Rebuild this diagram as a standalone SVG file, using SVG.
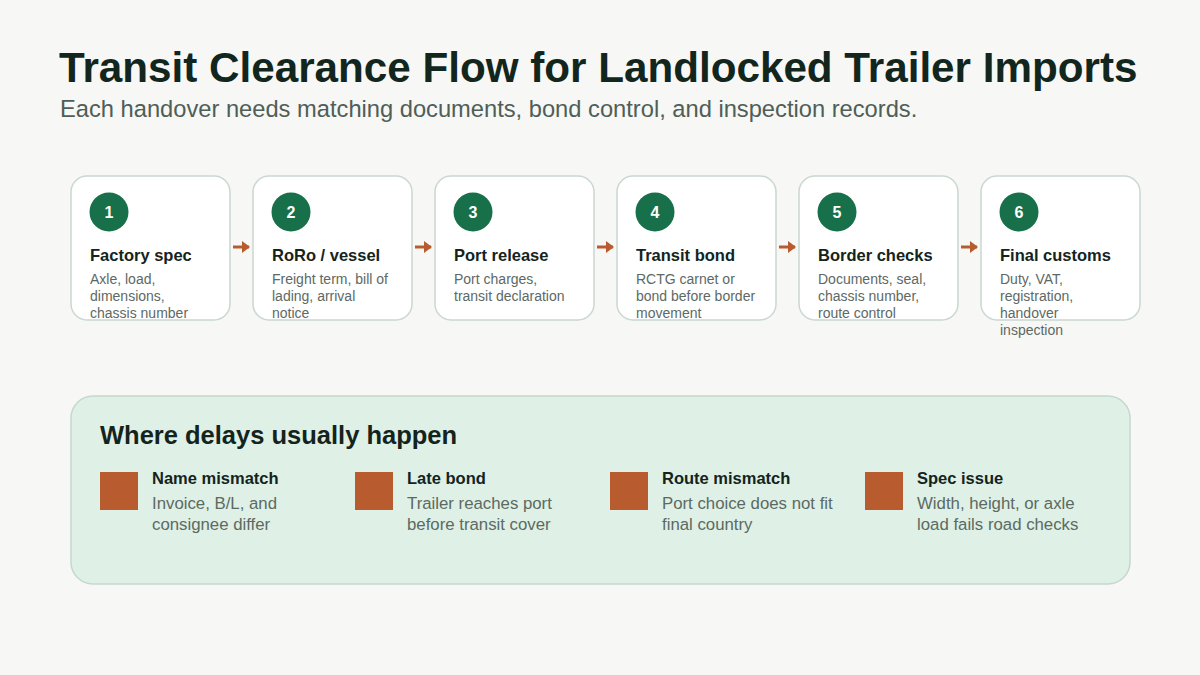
<svg xmlns="http://www.w3.org/2000/svg" width="1200" height="675" viewBox="0 0 1200 675">
<defs>
<style>
.bg{fill:#f7f7f5}
.card{fill:#ffffff;stroke:#c9d8d0;stroke-width:1.5}
.num{fill:#17704a}
.numt{font-family:"Liberation Sans",Arial,sans-serif;font-weight:bold;font-size:16px;fill:#ffffff;text-anchor:middle}
.ct{font-family:"Liberation Sans",Arial,sans-serif;font-weight:bold;font-size:16.5px;fill:#14241d}
.cd{font-family:"Liberation Sans",Arial,sans-serif;font-size:14px;fill:#5d6964}
.conn{stroke:#b85c30;stroke-width:3;fill:none}
.panel{fill:#dff0e6;stroke:#c6d8ce;stroke-width:1.5}
.ph{font-family:"Liberation Sans",Arial,sans-serif;font-weight:bold;font-size:25.5px;fill:#14241d}
.sq{fill:#b85c30}
.it{font-family:"Liberation Sans",Arial,sans-serif;font-weight:bold;font-size:16.5px;fill:#14241d}
.id{font-family:"Liberation Sans",Arial,sans-serif;font-size:16.8px;fill:#5b6a62}
</style>
<marker id="ah" markerWidth="8" markerHeight="12" refX="7" refY="6" orient="auto" markerUnits="userSpaceOnUse">
<path d="M0,0 L8,6 L0,12 Z" fill="#b85c30"/>
</marker>
</defs>
<rect class="bg" x="0" y="0" width="1200" height="675"/>
<text x="59" y="82" font-family="'Liberation Sans',Arial,sans-serif" font-weight="bold" font-size="42.2" fill="#12261e">Transit Clearance Flow for Landlocked Trailer Imports</text>
<text x="60" y="117" font-family="'Liberation Sans',Arial,sans-serif" font-size="23.7" fill="#4f5e57">Each handover needs matching documents, bond control, and inspection records.</text>

<g id="connectors">
<line class="conn" x1="233" y1="247" x2="249" y2="247" marker-end="url(#ah)"/>
<line class="conn" x1="415" y1="247" x2="431" y2="247" marker-end="url(#ah)"/>
<line class="conn" x1="597" y1="247" x2="613" y2="247" marker-end="url(#ah)"/>
<line class="conn" x1="779" y1="247" x2="795" y2="247" marker-end="url(#ah)"/>
<line class="conn" x1="961" y1="247" x2="977" y2="247" marker-end="url(#ah)"/>
</g>

<g id="step1">
<rect class="card" x="71" y="176" width="159" height="144" rx="16"/>
<circle class="num" cx="109" cy="212" r="19.5"/>
<text class="numt" x="109" y="218">1</text>
<text class="ct" x="90" y="261">Factory spec</text>
<text class="cd" x="90" y="284">Axle, load,</text>
<text class="cd" x="90" y="301">dimensions,</text>
<text class="cd" x="90" y="318">chassis number</text>
</g>
<g id="step2">
<rect class="card" x="253" y="176" width="159" height="144" rx="16"/>
<circle class="num" cx="291" cy="212" r="19.5"/>
<text class="numt" x="291" y="218">2</text>
<text class="ct" x="272" y="261">RoRo / vessel</text>
<text class="cd" x="272" y="284">Freight term, bill of</text>
<text class="cd" x="272" y="301">lading, arrival</text>
<text class="cd" x="272" y="318">notice</text>
</g>
<g id="step3">
<rect class="card" x="435" y="176" width="159" height="144" rx="16"/>
<circle class="num" cx="473" cy="212" r="19.5"/>
<text class="numt" x="473" y="218">3</text>
<text class="ct" x="454" y="261">Port release</text>
<text class="cd" x="454" y="284">Port charges,</text>
<text class="cd" x="454" y="301">transit declaration</text>
</g>
<g id="step4">
<rect class="card" x="617" y="176" width="159" height="144" rx="16"/>
<circle class="num" cx="655" cy="212" r="19.5"/>
<text class="numt" x="655" y="218">4</text>
<text class="ct" x="636" y="261">Transit bond</text>
<text class="cd" x="636" y="284">RCTG carnet or</text>
<text class="cd" x="636" y="301">bond before border</text>
<text class="cd" x="636" y="318">movement</text>
</g>
<g id="step5">
<rect class="card" x="799" y="176" width="159" height="144" rx="16"/>
<circle class="num" cx="837" cy="212" r="19.5"/>
<text class="numt" x="837" y="218">5</text>
<text class="ct" x="818" y="261">Border checks</text>
<text class="cd" x="818" y="284">Documents, seal,</text>
<text class="cd" x="818" y="301">chassis number,</text>
<text class="cd" x="818" y="318">route control</text>
</g>
<g id="step6">
<rect class="card" x="981" y="176" width="159" height="144" rx="16"/>
<circle class="num" cx="1019" cy="212" r="19.5"/>
<text class="numt" x="1019" y="218">6</text>
<text class="ct" x="1000" y="261">Final customs</text>
<text class="cd" x="1000" y="284">Duty, VAT,</text>
<text class="cd" x="1000" y="301">registration,</text>
<text class="cd" x="1000" y="318">handover</text>
<text class="cd" x="1000" y="335">inspection</text>
</g>

<g id="delays">
<rect class="panel" x="71" y="396" width="1059" height="188" rx="22"/>
<text class="ph" x="100" y="444">Where delays usually happen</text>
</g>
<g id="delay1">
<rect class="sq" x="100" y="472" width="38" height="38"/>
<text class="it" x="152" y="484">Name mismatch</text>
<text class="id" x="152" y="509">Invoice, B/L, and</text>
<text class="id" x="152" y="530">consignee differ</text>
</g>
<g id="delay2">
<rect class="sq" x="355" y="472" width="38" height="38"/>
<text class="it" x="407" y="484">Late bond</text>
<text class="id" x="407" y="509">Trailer reaches port</text>
<text class="id" x="407" y="530">before transit cover</text>
</g>
<g id="delay3">
<rect class="sq" x="610" y="472" width="38" height="38"/>
<text class="it" x="662" y="484">Route mismatch</text>
<text class="id" x="662" y="509">Port choice does not fit</text>
<text class="id" x="662" y="530">final country</text>
</g>
<g id="delay4">
<rect class="sq" x="865" y="472" width="38" height="38"/>
<text class="it" x="917" y="484">Spec issue</text>
<text class="id" x="917" y="509">Width, height, or axle</text>
<text class="id" x="917" y="530">load fails road checks</text>
</g>
</svg>
